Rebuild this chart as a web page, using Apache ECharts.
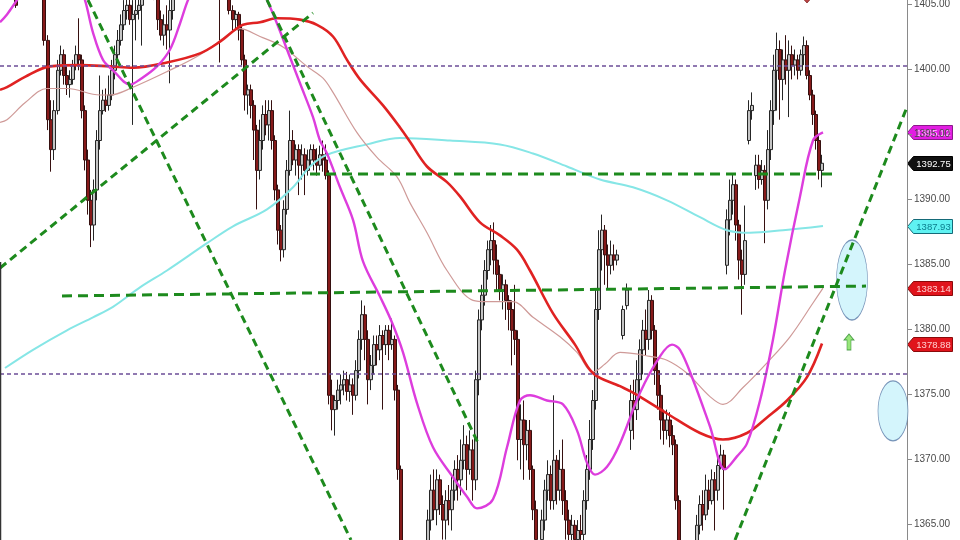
<!DOCTYPE html>
<html>
<head>
<meta charset="utf-8">
<script src="https://cdn.jsdelivr.net/npm/echarts@6/dist/echarts.min.js"></script>
<style>html,body{margin:0;padding:0;background:#fff}#c{width:960px;height:540px}</style>
</head>
<body>
<div id="c"></div>
<script>
// ---- data ----
// candles: [time, open, close, low, high]
const candles = [
[16,1406.1,1404.9,1404.7,1406.5],[44,1406.8,1402.2,1401.8,1407.2],[48,1402.2,1396.1,1395.3,1402.6],[51,1396.1,1393.8,1392.1,1397.6],
[54,1393.8,1396.8,1393.0,1397.6],[58,1396.8,1399.9,1396.5,1400.7],[61,1399.9,1401.1,1399.5,1401.8],[64,1401.1,1399.5,1398.8,1401.5],
[67,1399.5,1398.8,1398.0,1400.3],[70,1398.8,1399.2,1397.8,1399.9],[73,1399.2,1400.3,1398.8,1400.7],[76,1400.3,1401.1,1399.9,1401.8],
[79,1401.1,1400.7,1399.9,1403.9],[82,1400.7,1396.8,1396.2,1401.1],[85,1396.8,1393.0,1392.2,1397.2],[88,1393.0,1389.9,1388.8,1393.8],
[91,1389.9,1388.0,1386.3,1390.7],[94,1388.0,1390.7,1386.8,1391.5],[97,1390.7,1394.5,1389.9,1395.3],[100,1394.5,1396.8,1393.8,1399.5],
[103,1396.8,1397.6,1396.5,1398.4],[106,1397.6,1397.2,1396.7,1398.5],[109,1397.2,1398.0,1396.8,1399.5],[112,1398.0,1399.9,1397.6,1400.7],
[115,1399.9,1401.1,1399.2,1401.8],[118,1401.1,1402.2,1400.7,1403.0],[121,1402.2,1403.4,1401.8,1404.2],[124,1403.4,1404.5,1403.0,1405.3],
[127,1404.5,1404.9,1403.8,1405.7],[130,1404.9,1403.8,1403.4,1405.7],[133,1403.8,1404.2,1395.7,1405.3],[136,1404.2,1404.5,1402.2,1405.7],
[139,1404.5,1404.9,1403.8,1406.1],[142,1404.9,1406.1,1401.8,1406.5],[146,1406.1,1406.8,1405.7,1407.6],[150,1406.8,1406.5,1405.7,1407.6],
[154,1406.5,1405.7,1405.3,1407.2],[158,1405.7,1403.8,1403.0,1406.1],[161,1403.8,1402.6,1402.2,1404.5],[164,1402.6,1403.4,1401.8,1404.2],
[167,1403.4,1403.0,1401.5,1404.9],[170,1403.0,1404.5,1398.9,1405.3],[173,1404.5,1406.1,1403.8,1406.5],[220,1406.1,1405.7,1400.5,1406.8],
[229,1405.7,1404.5,1404.2,1406.1],[233,1404.5,1403.8,1403.0,1404.9],[236,1403.8,1404.2,1403.0,1404.5],[239,1404.2,1403.0,1402.2,1404.4],
[242,1403.0,1400.7,1400.3,1403.4],[245,1400.7,1398.0,1396.8,1401.1],[248,1398.0,1398.4,1396.5,1398.8],[251,1398.4,1397.2,1396.2,1398.8],
[254,1397.2,1395.3,1393.0,1397.6],[257,1395.3,1392.2,1389.2,1395.7],[260,1392.2,1394.5,1391.5,1396.1],[263,1394.5,1396.5,1393.8,1397.2],
[266,1396.5,1395.7,1394.9,1397.6],[269,1395.7,1396.8,1394.5,1397.6],[272,1396.8,1394.5,1393.8,1397.6],[275,1394.5,1390.7,1389.9,1394.9],
[278,1390.7,1387.6,1386.5,1391.1],[281,1387.6,1386.1,1385.2,1388.0],[284,1386.1,1389.2,1385.5,1389.9],[287,1389.2,1392.2,1388.8,1393.0],
[290,1392.2,1394.5,1391.8,1396.8],[293,1394.5,1393.0,1392.6,1395.3],[296,1393.0,1393.8,1391.8,1394.2],[299,1393.8,1392.6,1390.3,1394.2],
[302,1392.6,1393.4,1391.5,1394.2],[305,1393.4,1392.2,1390.3,1393.9],[308,1392.2,1393.0,1391.8,1393.8],[311,1393.0,1393.8,1392.6,1394.2],
[314,1393.8,1393.0,1392.2,1394.2],[317,1393.0,1392.6,1391.8,1393.9],[320,1392.6,1393.4,1392.2,1394.1],[323,1393.4,1393.0,1392.1,1394.5],
[326,1393.0,1391.8,1391.5,1394.2],[329,1391.8,1374.9,1374.2,1392.2],[332,1374.9,1373.8,1372.2,1376.1],[335,1373.8,1374.5,1371.8,1374.9],
[338,1374.5,1375.3,1373.8,1376.1],[341,1375.3,1375.7,1374.2,1376.5],[344,1375.7,1376.1,1374.9,1376.8],[347,1376.1,1375.2,1374.5,1376.7],
[350,1375.2,1375.7,1374.4,1376.5],[353,1375.7,1374.9,1373.4,1376.2],[356,1374.9,1376.8,1374.5,1377.6],[359,1376.8,1379.2,1376.2,1379.9],
[362,1379.2,1381.1,1378.4,1382.2],[365,1381.1,1379.2,1377.6,1381.8],[368,1379.2,1376.1,1374.2,1379.9],[371,1376.1,1377.2,1375.3,1378.0],
[374,1377.2,1378.8,1376.5,1379.5],[377,1378.8,1378.4,1377.2,1379.5],[380,1378.4,1379.5,1377.6,1380.3],[383,1379.5,1378.8,1373.8,1379.9],
[386,1378.8,1379.9,1378.0,1380.3],[389,1379.9,1378.8,1377.6,1380.3],[392,1378.8,1379.2,1378.4,1380.8],[395,1379.2,1375.3,1374.5,1379.5],
[398,1375.3,1369.2,1368.4,1375.7],[401,1369.2,1362.2,1361.5,1369.5],[428,1362.2,1365.3,1361.5,1366.1],[431,1365.3,1367.6,1364.5,1368.8],
[434,1367.6,1366.1,1365.3,1369.2],[437,1366.1,1368.4,1364.9,1369.2],[440,1368.4,1366.5,1365.7,1368.8],[443,1366.5,1365.3,1363.8,1367.2],
[446,1365.3,1366.8,1363.8,1367.6],[449,1366.8,1366.1,1364.9,1368.0],[452,1366.1,1367.6,1364.5,1368.8],[455,1367.6,1369.2,1366.8,1369.9],
[458,1369.2,1368.4,1366.8,1370.3],[461,1368.4,1369.9,1367.2,1371.5],[464,1369.9,1371.1,1369.2,1372.6],[467,1371.1,1369.2,1367.6,1371.8],
[470,1369.2,1370.7,1368.8,1372.2],[473,1370.7,1368.4,1366.8,1371.5],[476,1368.4,1376.1,1367.6,1376.8],[479,1376.1,1380.7,1374.9,1381.5],
[482,1380.7,1382.6,1379.9,1383.4],[485,1382.6,1384.5,1381.8,1385.3],[488,1384.5,1386.1,1383.8,1386.8],[491,1386.1,1386.8,1384.9,1388.0],
[494,1386.8,1385.3,1384.2,1388.2],[497,1385.3,1384.2,1383.0,1386.5],[500,1384.2,1383.0,1382.2,1384.9],[503,1383.0,1383.4,1381.5,1384.2],
[506,1383.4,1382.2,1380.7,1383.8],[509,1382.2,1381.5,1379.9,1382.6],[512,1381.5,1379.9,1377.2,1382.2],[515,1379.9,1379.2,1378.0,1383.4],
[518,1379.2,1371.5,1369.9,1379.9],[521,1371.5,1373.0,1369.2,1374.2],[524,1373.0,1371.1,1368.4,1374.5],[527,1371.1,1372.2,1369.9,1373.0],
[530,1372.2,1369.2,1368.4,1373.0],[533,1369.2,1366.1,1365.3,1369.5],[536,1366.1,1363.8,1363.0,1366.8],[542,1363.8,1365.3,1362.6,1366.1],
[545,1365.3,1367.6,1364.5,1368.4],[548,1367.6,1368.8,1366.8,1369.9],[551,1368.8,1366.8,1366.1,1369.5],[554,1366.8,1369.9,1366.1,1374.9],
[557,1369.9,1367.6,1366.5,1370.3],[560,1367.6,1369.2,1366.8,1370.7],[563,1369.2,1366.8,1365.7,1371.5],[566,1366.8,1365.3,1363.8,1367.6],
[569,1365.3,1364.2,1363.4,1366.1],[572,1364.2,1364.9,1363.4,1365.7],[575,1364.9,1363.8,1363.0,1365.3],[578,1363.8,1364.5,1363.0,1365.3],
[581,1364.5,1364.2,1363.4,1365.7],[584,1364.2,1366.8,1363.4,1367.6],[587,1366.8,1369.2,1366.1,1370.3],[590,1369.2,1371.5,1368.4,1373.0],
[593,1371.5,1374.5,1370.7,1375.3],[596,1374.5,1381.5,1373.8,1383.0],[599,1381.5,1386.1,1380.7,1387.6],[602,1386.1,1387.6,1384.5,1388.8],
[605,1387.6,1385.7,1383.4,1388.0],[608,1385.7,1384.9,1383.0,1386.5],[611,1384.9,1385.7,1384.2,1386.8],[614,1385.7,1385.3,1384.5,1386.5],
[617,1385.3,1385.7,1384.9,1386.1],[623,1379.5,1381.5,1379.2,1381.8],[627,1381.8,1383.0,1381.5,1383.5],[631,1372.2,1374.5,1370.7,1375.7],
[634,1374.5,1373.8,1371.5,1376.1],[637,1373.8,1376.1,1373.0,1377.6],[640,1376.1,1378.4,1374.5,1379.2],[643,1378.4,1379.9,1376.5,1380.7],
[646,1379.9,1379.2,1378.0,1381.5],[649,1379.2,1382.2,1378.4,1383.0],[652,1382.2,1379.9,1379.2,1382.6],[655,1379.9,1376.8,1375.7,1380.3],
[658,1376.8,1374.9,1373.8,1377.6],[661,1374.9,1373.0,1371.5,1375.7],[664,1373.0,1372.2,1371.1,1373.8],[667,1372.2,1373.0,1371.5,1373.8],
[670,1373.0,1371.8,1370.9,1373.6],[673,1371.8,1371.1,1370.3,1372.6],[676,1371.1,1366.8,1366.1,1371.5],[679,1366.8,1363.0,1362.2,1367.2],
[697,1363.4,1364.9,1363.0,1365.7],[700,1364.9,1366.5,1364.2,1367.2],[703,1366.5,1365.7,1364.5,1367.6],[706,1365.7,1367.6,1365.3,1368.8],
[709,1367.6,1366.8,1366.1,1368.4],[712,1366.8,1368.4,1366.5,1369.2],[715,1368.4,1367.6,1364.5,1369.0],[718,1367.6,1369.5,1366.8,1370.3],
[721,1369.5,1370.3,1369.2,1371.1],[724,1370.3,1369.2,1366.1,1370.7],[727,1384.9,1388.4,1384.2,1389.2],[730,1388.4,1389.9,1387.2,1391.5],
[733,1389.9,1391.1,1388.8,1392.0],[736,1391.1,1388.0,1386.8,1391.5],[739,1388.0,1385.3,1383.8,1388.4],[742,1385.3,1384.2,1381.1,1386.1],
[745,1384.2,1386.8,1383.4,1389.5],[749,1394.5,1396.8,1394.2,1397.6],[752,1396.8,1397.2,1396.1,1398.2],[756,1391.8,1392.6,1390.7,1393.4],
[759,1392.6,1391.5,1390.8,1393.4],[762,1391.5,1392.2,1391.1,1393.0],[765,1392.2,1389.9,1386.6,1392.6],[768,1389.9,1393.8,1389.2,1395.3],
[771,1393.8,1396.8,1393.0,1397.6],[774,1396.8,1399.9,1395.7,1401.1],[777,1399.9,1401.5,1396.8,1402.8],[780,1401.5,1399.2,1396.1,1402.2],
[783,1399.2,1400.7,1397.6,1401.5],[786,1400.7,1399.9,1398.8,1402.6],[789,1399.9,1401.1,1396.3,1402.2],[792,1401.1,1400.3,1399.2,1401.8],
[795,1400.3,1400.7,1399.5,1401.5],[798,1400.7,1399.9,1399.2,1401.1],[801,1399.9,1401.1,1399.5,1401.5],[804,1401.1,1401.8,1400.3,1402.5],
[807,1401.8,1399.5,1399.2,1402.2],[810,1399.5,1398.0,1397.6,1399.9],[813,1398.0,1396.5,1395.7,1398.4],[816,1396.5,1394.5,1393.8,1396.8],
[819,1394.5,1392.2,1391.5,1394.9],[822,1392.2,1392.75,1390.9,1393.4]
];
// moving averages: [time, value]
const maFast = [[0,1403.6],[7,1404.2],[17,1405.3],[35,1407.2],[60,1407.6],[80,1406.1],[85,1405.3],[93,1402.8],[103,1400.7],[113,1399.9],[130,1398.8],[140,1399.2],[157,1400.2],[170,1401.5],[180,1403.5],[188,1405.3],[200,1407.2],[230,1408.4],[255,1407.2],[267,1405.3],[277,1403.5],[290,1400.9],[300,1398.9],[313,1396.3],[320,1394.5],[327,1393.5],[340,1390.9],[353,1388.4],[363,1385.2],[380,1382.5],[392,1380.5],[403,1378.2],[417,1374.3],[433,1370.9],[453,1368.6],[467,1367.1],[477,1366.2],[493,1366.9],[507,1370.9],[520,1374.5],[530,1374.9],[547,1374.5],[563,1374.2],[577,1372.2],[587,1369.7],[595,1368.8],[607,1369.4],[620,1371.2],[640,1375.1],[660,1377.9],[672,1378.8],[680,1378.4],[693,1376.1],[710,1372.5],[725,1369.2],[737,1370.2],[747,1371.2],[760,1374.5],[773,1379.2],[785,1384.5],[800,1390.2],[813,1394.5],[823,1395.12]];
const maMid = [[0,1395.9],[7,1396.1],[25,1397.4],[47,1398.5],[67,1398.5],[100,1398.0],[110,1398.0],[133,1398.6],[167,1399.8],[200,1401.1],[233,1402.9],[240,1403.1],[260,1402.5],[283,1401.7],[307,1400.2],[323,1399.3],[333,1398.2],[357,1395.1],[377,1393.2],[397,1391.7],[410,1389.7],[427,1387.4],[447,1384.5],[473,1382.2],[487,1382.1],[513,1382.1],[533,1380.9],[560,1379.4],[577,1378.2],[593,1376.7],[605,1377.3],[620,1378.2],[650,1377.9],[667,1377.6],[687,1376.6],[710,1374.8],[723,1374.2],[743,1375.5],[767,1377.4],[790,1379.4],[813,1382.0],[823,1383.14]];
const maSlow = [[0,1398.4],[7,1398.6],[25,1399.4],[50,1400.2],[80,1400.3],[110,1400.2],[133,1400.1],[167,1400.5],[200,1401.2],[220,1402.1],[233,1402.9],[243,1403.4],[260,1403.6],[277,1403.9],[300,1403.8],[317,1403.4],[333,1402.5],[347,1400.7],[360,1399.2],[383,1397.2],[400,1395.5],[410,1394.4],[427,1392.5],[447,1391.3],[460,1390.2],[480,1388.2],[500,1387.2],[517,1386.1],[530,1384.5],[553,1381.2],[575,1378.8],[593,1376.6],[620,1375.6],[633,1375.1],[667,1373.5],[700,1372.0],[723,1371.5],[747,1372.0],[767,1373.2],[787,1374.5],[807,1376.3],[822,1378.88]];
const maLong = [[5,1377.0],[33,1378.4],[67,1379.9],[93,1380.9],[113,1381.7],[140,1383.2],[167,1384.5],[207,1386.6],[233,1387.9],[267,1389.2],[293,1390.9],[310,1392.5],[327,1393.4],[367,1394.2],[400,1394.7],[450,1394.5],[500,1394.2],[533,1393.5],[567,1392.5],[600,1391.5],[633,1390.9],[667,1389.9],[700,1388.6],[727,1387.6],[750,1387.4],[783,1387.6],[823,1387.93]];
// hand-drawn trend lines: [time, value] end points
const trendRiseLeft = [[0,1384.69],[313,1404.31]];
const trendFallA = [[88,1405.31],[351,1363.77]];
const trendFallB = [[267,1405.31],[478,1371.23]];
const trendRiseRight = [[735,1363.77],[907,1397.08]];
const supportUpper = [[310,1391.92],[838,1391.92]];
const supportLower = [[62,1382.54],[866,1383.3]];
// purple horizontal levels
const levels = [1400.23, 1376.54];
// price tags on the axis
const tagValues = [1395.12, 1392.75, 1387.93, 1383.14, 1378.88];
// annotations
const ovals = [[852,1383.77],[893,1373.7]];
const upArrow = [[849,1379.0]];
const topMarker = [[807,1405.5]];

// ---- styles ----
const xMax = 907;
const tagFill = ['#e21ee2','#101010','#5ff2f2','#e0141c','#e0141c'];
const tagText = ['#ffc8ff','#ffffff','#0b7d8c','#ffd0d0','#ffd0d0'];
const tagBorder = ['#8a1a8a','#000000','#156a78','#8a0a0a','#8a0a0a'];
const green = '#1d8a1d';
const font = 'Liberation Sans, Arial, sans-serif';

const chart = echarts.init(document.getElementById('c'), null, {renderer:'canvas'});

function lineSeries(data, color, width, type, z, smooth) {
  return {type:'line', data:data, showSymbol:false, smooth:smooth?0.35:false, z:z, silent:true,
    lineStyle:{color:color, width:width, type:type||'solid'}};
}

const series = [
  {type:'candlestick', data:candles, encode:{x:0, y:[1,2,3,4]}, barWidth:3, z:2, silent:true,
   itemStyle:{color:'#c4c4c4', color0:'#861a1a', borderColor:'#262626', borderColor0:'#361010', borderWidth:1}},
  lineSeries(maLong, '#86e6e6', 2, 'solid', 3, true),
  lineSeries(maMid, '#cf9a98', 1.2, 'solid', 3, true),
  lineSeries(maSlow, '#e02222', 2.6, 'solid', 4, true),
  lineSeries(maFast, '#dd3ddd', 2.4, 'solid', 4, true)
];
levels.forEach(v => series.push(lineSeries([[0,v],[xMax,v]], '#6c4e98', 1.6, [4,3], 5, false)));
series.push({type:'scatter', data:[ovals[0]], symbol:'circle', symbolSize:[31,80], z:5, silent:true, clip:false,
  itemStyle:{color:'#c9f3fb', borderColor:'#5a7aa8', borderWidth:1}});
series.push({type:'scatter', data:[ovals[1]], symbol:'circle', symbolSize:[30,60], z:5, silent:true, clip:false,
  itemStyle:{color:'#c9f3fb', borderColor:'#5a7aa8', borderWidth:1}});
[trendRiseLeft, trendFallA, trendFallB, trendRiseRight].forEach(d => series.push(lineSeries(d, green, 3, [8,5], 6, false)));
[supportUpper, supportLower].forEach(d => series.push(lineSeries(d, green, 3, [10,6], 6, false)));
series.push({type:'scatter', data:upArrow, symbol:'path://M5,0 L10,6 L7,6 L7,16 L3,16 L3,6 L0,6 Z', symbolSize:[10,16], z:7, silent:true, clip:false,
  itemStyle:{color:'#7ee05a', borderColor:'#2e8b2e', borderWidth:0.8}});
series.push({type:'scatter', data:topMarker, symbol:'diamond', symbolSize:[10,11], z:7, silent:true, clip:false,
  itemStyle:{color:'#a81616', borderColor:'#701010', borderWidth:0.8}});

chart.setOption({
  animation:false,
  backgroundColor:'#ffffff',
  grid:{left:0, right:53, top:-61, bottom:-49, outerBoundsMode:'none'},
  xAxis:{type:'value', min:0, max:xMax, show:false},
  yAxis:{type:'value', position:'right', min:1360, max:1410, interval:5,
    axisLine:{show:true, onZero:false, lineStyle:{color:'#8a8a8a', width:1}},
    axisTick:{show:true, length:5, lineStyle:{color:'#8a8a8a'}},
    axisLabel:{show:true, color:'#4a4a4a', fontSize:10, margin:7, fontFamily:font,
      formatter:v=>v.toFixed(2)},
    splitLine:{show:false}},
  series:series
});

// price tags placed through the axis scale
const tagGraphics = tagValues.map((v,i) => {
  const p = chart.convertToPixel({gridIndex:0}, [xMax, v]);
  const x = Math.round(p[0]) + 0.5, y = Math.round(p[1]) + 0.5;
  return {type:'group', x:x, y:y, z:100, silent:true, children:[
    {type:'polygon', shape:{points:[[0,0],[6,-7],[45,-7],[45,7],[6,7]]},
     style:{fill:tagFill[i], stroke:tagBorder[i], lineWidth:1}},
    {type:'text', x:26, y:0.5, style:{text:v.toFixed(2), fill:tagText[i], font:'9.5px '+font, align:'center', verticalAlign:'middle'}}
  ]};
});
// thin frame line on the lower left edge of the picture
tagGraphics.push({type:'line', z:100, silent:true, shape:{x1:0.5, y1:262, x2:0.5, y2:540}, style:{stroke:'#333', lineWidth:1.5}});
chart.setOption({graphic:tagGraphics});
</script>
</body>
</html>
